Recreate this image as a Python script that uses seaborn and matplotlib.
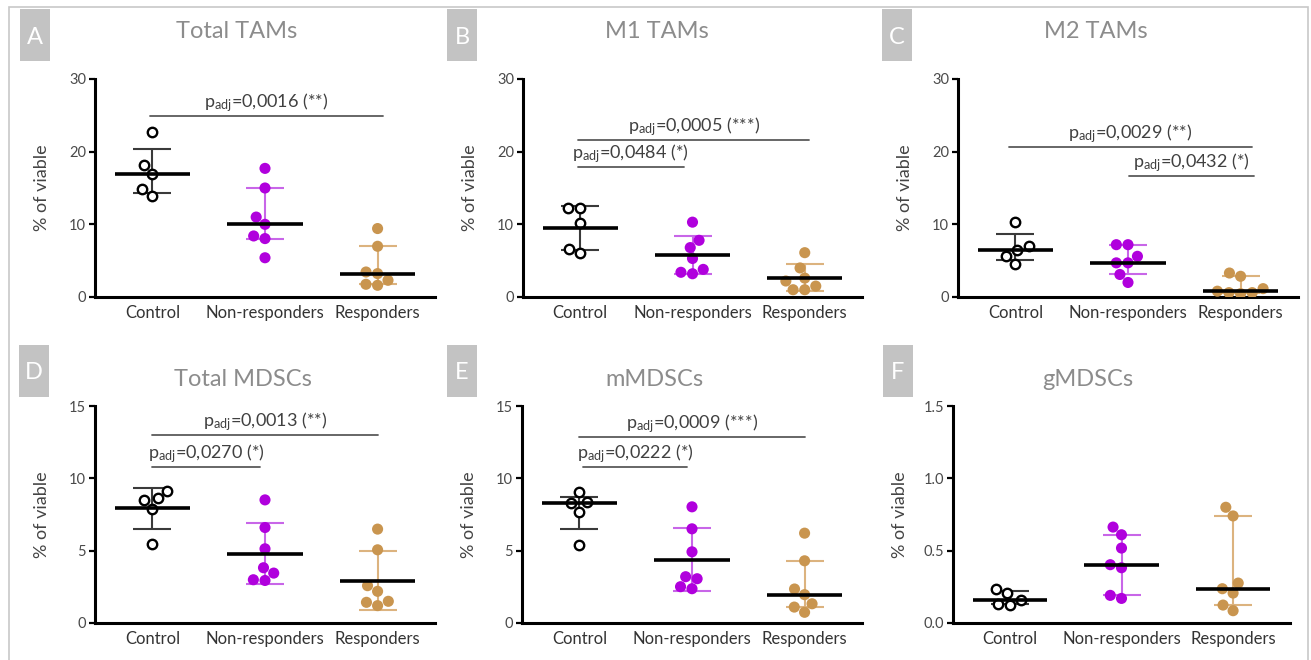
import matplotlib
matplotlib.use("Agg")
import matplotlib.pyplot as plt
import numpy as np
import pandas as pd
import seaborn as sns

groups = ["Control", "Non-responders", "Responders"]
titles = ["Total TAMs", "M1 TAMs", "M2 TAMs", "Total MDSCs", "mMDSCs", "gMDSCs"]
letters = ["A", "B", "C", "D", "E", "F"]

# % of viable, one list per group (Control, Non-responders, Responders)
total_tams = [[22.7, 18.1, 16.86, 14.8, 13.9],
              [17.7, 15.0, 11.0, 10.0, 8.4, 8.04, 5.4],
              [9.42, 6.98, 3.44, 3.22, 2.3, 1.75, 1.61]]
m1_tams = [[12.3, 12.3, 10.25, 6.66, 6.1],
           [10.3, 7.8, 6.8, 5.3, 3.8, 3.2, 3.4],
           [6.1, 4.0, 2.6, 1.5, 1.0, 1.0, 2.2]]
m2_tams = [[10.3, 7.0, 6.5, 5.7, 4.6],
           [7.2, 7.2, 5.6, 4.7, 4.7, 3.1, 2.0],
           [3.3, 2.85, 1.15, 0.6, 0.46, 0.6, 0.8]]
total_mdscs = [[9.13, 8.51, 8.63, 7.89, 5.48],
               [8.51, 6.6, 5.13, 3.82, 3.45, 2.94, 2.99],
               [6.49, 5.06, 2.58, 2.19, 1.5, 1.43, 1.2]]
m_mdscs = [[9.04, 8.32, 8.35, 7.7, 5.36],
           [8.03, 6.51, 4.92, 3.06, 3.2, 2.37, 2.51],
           [6.21, 4.3, 2.35, 1.96, 1.33, 1.1, 0.74]]
g_mdscs = [[0.235, 0.207, 0.156, 0.133, 0.127],
           [0.663, 0.61, 0.518, 0.403, 0.382, 0.191, 0.17],
           [0.80, 0.74, 0.276, 0.237, 0.207, 0.124, 0.085]]
panels = [total_tams, m1_tams, m2_tams, total_mdscs, m_mdscs, g_mdscs]

# which summary each group shows: median+IQR or mean+SD
summaries = [["median"] * 3, ["mean"] * 3, ["median"] * 3,
             ["mean"] * 3, ["median", "mean", "median"], ["median"] * 3]

y_max = [30, 30, 30, 15, 15, 1.5]
y_step = [10, 10, 10, 5, 5, 0.5]

# significance lines: (from, to, height, p value)
brackets = [
    [(-0.02, 2.05, 24.9, "0,0016 (**)")],
    [(-0.02, 2.04, 21.6, "0,0005 (***)"), (-0.02, 0.92, 17.9, "0,0484 (*)")],
    [(-0.06, 2.10, 20.6, "0,0029 (**)"), (1.01, 2.12, 16.7, "0,0432 (*)")],
    [(0.0, 2.0, 13.0, "0,0013 (**)"), (0.0, 0.96, 10.8, "0,0270 (*)")],
    [(0.0, 2.0, 12.84, "0,0009 (***)"), (0.03, 0.96, 10.8, "0,0222 (*)")],
    [],
]

point_colors = {"Control": "black", "Non-responders": "#b000dd", "Responders": "#c9954f"}
bar_colors = ["#3a3a3a", "#c866e8", "#dcb37f"]

W, H = 1311, 660
# axes boxes in pixels: left, top, right, bottom
boxes = [(95, 79, 435, 297), (523, 79, 862, 297), (958, 79, 1298, 297),
         (95, 406, 435, 623), (522, 406, 862, 623), (953, 406, 1290, 623)]
title_x = [237, 657, 1096, 243, 654, 1088]
letter_box = [(20, 9), (447, 9), (882, 9), (19, 345), (447, 345), (883, 345)]

sns.set_theme(style="white")
plt.rcParams["font.family"] = ["Lato", "DejaVu Sans"]
plt.rcParams["mathtext.default"] = "regular"


def summary(vals, kind):
    v = np.asarray(vals)
    if kind == "median":
        lo, hi = np.percentile(v, [25, 75], method="weibull")
        return np.median(v), lo, hi
    sd = v.std(ddof=1)
    return v.mean(), v.mean() - sd, v.mean() + sd


fig = plt.figure(figsize=(W / 100, H / 100), dpi=100)

# outer frame
fig.add_artist(plt.Rectangle((9 / W, -0.05), (1308 - 9) / W, 1 - 7 / H + 0.05,
                             transform=fig.transFigure, fill=False,
                             edgecolor="#c8c8c8", lw=1.2))

for k, data in enumerate(panels):
    l, t, r, b = boxes[k]
    ax = fig.add_axes([l / W, 1 - b / H, (r - l) / W, (b - t) / H])

    df = pd.DataFrame({
        "group": np.repeat(groups, [len(v) for v in data]),
        "value": np.concatenate(data),
    })
    sns.swarmplot(data=df, x="group", y="value", hue="group", order=groups,
                  hue_order=groups, palette=point_colors, size=8,
                  legend=False, ax=ax, zorder=3)
    # control group drawn as open circles
    for coll in ax.collections:
        offs = coll.get_offsets()
        if len(offs) and abs(np.mean(offs[:, 0])) < 0.3:
            coll.set_sizes([6.8 ** 2])
            coll.set_facecolor("white")
            coll.set_edgecolor("black")
            coll.set_linewidth(1.7)

    for i, vals in enumerate(data):
        c, lo, hi = summary(vals, summaries[k][i])
        ax.errorbar(i, c, yerr=[[c - lo], [hi - c]], fmt="none",
                    ecolor=bar_colors[i], elinewidth=1.5, capsize=13.5,
                    capthick=1.5, zorder=2)
        ax.hlines(c, i - 0.335, i + 0.335, color="black", lw=2.6, zorder=4)

    for x0, x1, yb, p in brackets[k]:
        ax.plot([x0, x1], [yb, yb], color="#5a5a5a", lw=1.3, zorder=2)
        ax.annotate(r"p$_{adj}$=" + p, xy=((x0 + x1) / 2, yb), xytext=(0, 1.5),
                    textcoords="offset points", ha="center", va="bottom",
                    fontsize=13, color="#404040")

    ax.set_xlim(-0.51, 2.51)
    ax.set_ylim(0, y_max[k])
    ticks = np.arange(0, y_max[k] + y_step[k] / 2, y_step[k])
    ax.set_yticks(ticks)
    if y_max[k] < 5:
        ax.set_yticklabels([f"{v:.1f}" for v in ticks])
    else:
        ax.set_yticklabels([f"{v:g}" for v in ticks])
    ax.set_xlabel("")
    ax.set_ylabel("% of viable", fontsize=13, color="#444444")
    ax.yaxis.set_label_coords(-45 / (r - l), 0.5)

    sns.despine(ax=ax)
    for side in ["left", "bottom"]:
        ax.spines[side].set_linewidth(2.2)
        ax.spines[side].set_color("black")
    ax.tick_params(axis="y", left=True, length=4.5, width=1.6, pad=2,
                   labelsize=10.5, labelcolor="#4a4a4a", color="black")
    ax.tick_params(axis="x", length=0, pad=6, labelsize=12, labelcolor="#333333")

    # title and panel letter
    top_row = k < 3
    fig.text(title_x[k] / W, 1 - (38.5 if top_row else 385.5) / H, titles[k],
             ha="center", va="baseline", fontsize=17, color="#8c8c8c")
    bx, by = letter_box[k]
    fig.add_artist(plt.Rectangle((bx / W, 1 - (by + 52) / H), 30 / W, 52 / H,
                                 transform=fig.transFigure, facecolor="#c3c3c3",
                                 edgecolor="none"))
    fig.text((bx + 15) / W, 1 - (by + 34.5) / H, letters[k], ha="center",
             va="baseline", fontsize=17, color="white")

fig.savefig("out.png", dpi=100)
